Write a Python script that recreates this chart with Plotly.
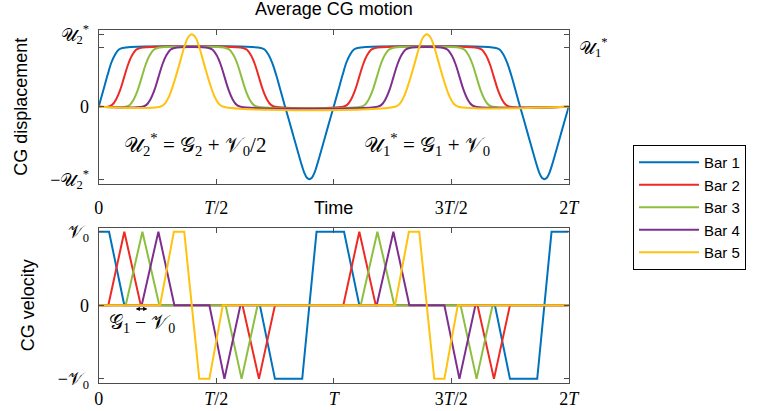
import plotly.graph_objects as go

# ---------------------------------------------------------------
# Data: time in units of the period T, displacement in units of U2*,
# velocity in units of V0.
# ---------------------------------------------------------------
names = ["Bar 1", "Bar 2", "Bar 3", "Bar 4", "Bar 5"]
colors = ["#0072BD", "#EE2A24", "#8CBF3F", "#7E2F8E", "#FFC20E"]

# CG displacement
disp_t_bar1 = [0.000, 0.019, 0.038, 0.054, 0.070, 0.086, 0.102, 0.690, 0.706, 0.722, 0.738,
               0.755, 0.775, 0.793, 0.810, 0.830, 0.850, 0.866, 0.876, 0.886, 0.8965, 0.907,
               0.917, 0.927, 0.943, 0.963, 0.983, 1.000, 1.019, 1.038, 1.054, 1.070, 1.086,
               1.102, 1.690, 1.706, 1.722, 1.738, 1.755, 1.775, 1.793, 1.810, 1.830, 1.850,
               1.866, 1.876, 1.886, 1.8965, 1.907, 1.917, 1.927, 1.943, 1.963, 1.983, 2.000]
disp_u_bar1 = [0.00, 0.22, 0.44, 0.61, 0.72, 0.79, 0.81, 0.81, 0.788, 0.72, 0.608,
               0.44, 0.21, 0.00, -0.19, -0.42, -0.65, -0.826, -0.92, -0.98, -1.00, -0.98,
               -0.92, -0.826, -0.65, -0.42, -0.19, 0.00, 0.22, 0.44, 0.61, 0.72, 0.79,
               0.81, 0.81, 0.788, 0.72, 0.608, 0.44, 0.21, 0.00, -0.19, -0.42, -0.65,
               -0.826, -0.92, -0.98, -1.00, -0.98, -0.92, -0.826, -0.65, -0.42, -0.19, 0.00]

disp_t_bar2 = [0.000, 0.040, 0.057, 0.074, 0.091, 0.108, 0.125, 0.142, 0.159, 0.176,
               0.614, 0.631, 0.648, 0.665, 0.682, 0.699, 0.716, 0.733, 0.750,
               1.040, 1.057, 1.074, 1.091, 1.108, 1.125, 1.142, 1.159, 1.176,
               1.614, 1.631, 1.648, 1.665, 1.682, 1.699, 1.716, 1.733, 1.750, 2.000]
disp_u_bar2 = [0.00, 0.00, 0.025, 0.101, 0.228, 0.405, 0.582, 0.709, 0.785, 0.81,
               0.81, 0.785, 0.709, 0.582, 0.405, 0.228, 0.101, 0.025, 0.00,
               0.00, 0.025, 0.101, 0.228, 0.405, 0.582, 0.709, 0.785, 0.81,
               0.81, 0.785, 0.709, 0.582, 0.405, 0.228, 0.101, 0.025, 0.00, 0.00]

disp_t_bar3 = [0.000, 0.115, 0.132, 0.149, 0.166, 0.183, 0.200, 0.217, 0.234, 0.251,
               0.540, 0.557, 0.574, 0.591, 0.608, 0.625, 0.642, 0.659, 0.676,
               1.115, 1.132, 1.149, 1.166, 1.183, 1.200, 1.217, 1.234, 1.251,
               1.540, 1.557, 1.574, 1.591, 1.608, 1.625, 1.642, 1.659, 1.676, 2.000]
disp_u_bar3 = disp_u_bar2[:]

disp_t_bar4 = [0.000, 0.186, 0.203, 0.220, 0.237, 0.254, 0.271, 0.288, 0.305, 0.322,
               0.468, 0.485, 0.502, 0.519, 0.536, 0.553, 0.570, 0.587, 0.604,
               1.186, 1.203, 1.220, 1.237, 1.254, 1.271, 1.288, 1.305, 1.322,
               1.468, 1.485, 1.502, 1.519, 1.536, 1.553, 1.570, 1.587, 1.604, 2.000]
disp_u_bar4 = disp_u_bar2[:]

disp_t_bar5 = [0.000, 0.261, 0.281, 0.301, 0.320, 0.342, 0.364, 0.380, 0.396, 0.412, 0.428,
               0.450, 0.472, 0.491, 0.511, 0.531,
               1.261, 1.281, 1.301, 1.320, 1.342, 1.364, 1.380, 1.396, 1.412, 1.428,
               1.450, 1.472, 1.491, 1.511, 1.531, 2.000]
disp_u_bar5 = [0.00, 0.00, 0.04, 0.155, 0.33, 0.57, 0.82, 0.955, 1.00, 0.955, 0.82,
               0.57, 0.33, 0.155, 0.04, 0.00,
               0.00, 0.04, 0.155, 0.33, 0.57, 0.82, 0.955, 1.00, 0.955, 0.82,
               0.57, 0.33, 0.155, 0.04, 0.00, 0.00]

# CG velocity (piecewise linear)
vel_t_bar1 = [0.000, 0.044, 0.109, 0.686, 0.750, 0.866, 0.927, 1.044, 1.109, 1.686, 1.750, 1.866, 1.927, 2.000]
vel_v_bar1 = [1, 1, 0, 0, -1, -1, 1, 1, 0, 0, -1, -1, 1, 1]

vel_t_bar2 = [0.000, 0.041, 0.109, 0.179, 0.612, 0.682, 0.750, 1.041, 1.109, 1.179, 1.612, 1.682, 1.750, 2.000]
vel_v_bar2 = [0, 0, 1, 0, 0, -1, 0, 0, 1, 0, 0, -1, 0, 0]

vel_t_bar3 = [0.000, 0.115, 0.186, 0.258, 0.540, 0.608, 0.676, 1.115, 1.186, 1.258, 1.540, 1.608, 1.676, 2.000]
vel_v_bar3 = [0, 0, 1, 0, 0, -1, 0, 0, 1, 0, 0, -1, 0, 0]

vel_t_bar4 = [0.000, 0.183, 0.254, 0.322, 0.471, 0.535, 0.603, 1.183, 1.254, 1.322, 1.471, 1.535, 1.603, 2.000]
vel_v_bar4 = [0, 0, 1, 0, 0, -1, 0, 0, 1, 0, 0, -1, 0, 0]

vel_t_bar5 = [0.000, 0.261, 0.320, 0.364, 0.428, 0.471, 0.528, 1.261, 1.320, 1.364, 1.428, 1.471, 1.528, 2.000]
vel_v_bar5 = [0, 0, 1, 1, -1, -1, 0, 0, 1, 1, -1, -1, 0, 0]

U1_STAR = 0.81  # plateau level U1* relative to U2*

time_ticks = [0, 0.5, 1, 1.5, 2]
time_labels_bottom = ["0", "<i>T</i>/2", "<i>T</i>", "3<i>T</i>/2", "2<i>T</i>"]
time_labels_top = ["0", "<i>T</i>/2", "", "3<i>T</i>/2", "2<i>T</i>"]

U = "𝒰"
G = "𝒢"
V = "𝒱"

disp_series = [(disp_t_bar1, disp_u_bar1), (disp_t_bar2, disp_u_bar2), (disp_t_bar3, disp_u_bar3),
               (disp_t_bar4, disp_u_bar4), (disp_t_bar5, disp_u_bar5)]
vel_series = [(vel_t_bar1, vel_v_bar1), (vel_t_bar2, vel_v_bar2), (vel_t_bar3, vel_v_bar3),
              (vel_t_bar4, vel_v_bar4), (vel_t_bar5, vel_v_bar5)]

SANS = "Liberation Sans, Arial, sans-serif"
SERIF = "Liberation Serif, DejaVu Serif, serif"

fig = go.Figure()

for name, color, (t, u) in zip(names, colors, disp_series):
    fig.add_trace(go.Scatter(x=t, y=u, mode="lines", name=name,
                             line=dict(color=color, width=2, shape="spline", smoothing=1),
                             xaxis="x", yaxis="y"))

for name, color, (t, v) in zip(names, colors, vel_series):
    fig.add_trace(go.Scatter(x=t, y=v, mode="lines", name=name,
                             showlegend=False, line=dict(color=color, width=2),
                             xaxis="x2", yaxis="y2"))

W, H = 764, 411
axis_common = dict(showline=True, linecolor="#4d4d4d", linewidth=1, mirror="allticks",
                   ticks="inside", ticklen=5, tickcolor="#4d4d4d", showgrid=False,
                   zeroline=False, automargin=False,
                   tickfont=dict(family=SERIF, size=18, color="black"))

fig.update_layout(
    width=W, height=H,
    margin=dict(l=0, r=0, t=0, b=0, autoexpand=False),
    paper_bgcolor="white", plot_bgcolor="white",
    xaxis=dict(domain=[98.7 / W, 568.7 / W], range=[0, 2], anchor="y",
               tickvals=time_ticks, ticktext=time_labels_top, ticklabelstandoff=7,
               **axis_common),
    yaxis=dict(domain=[1 - 184 / H, 1 - 29.5 / H], range=[-1.066, 1.065], anchor="x",
               tickvals=[-1, 0, U1_STAR, 1],
               ticktext=["−" + U + "<sub>2</sub><sup>*</sup>", "0", "", U + "<sub>2</sub><sup>*</sup>"],
               ticklabelstandoff=5,
               title=dict(text="CG displacement", font=dict(family=SANS, size=18, color="black"),
                          standoff=18),
               **axis_common),
    xaxis2=dict(domain=[98.7 / W, 568.7 / W], range=[0, 2], anchor="y2",
                tickvals=time_ticks, ticktext=time_labels_bottom, **axis_common),
    yaxis2=dict(domain=[1 - 382.7 / H, 1 - 228 / H], range=[-1.052, 1.05], anchor="x2",
                tickvals=[-1, 0, 1],
                ticktext=["−" + V + "<sub>0</sub>", "0", V + "<sub>0</sub>"],
                ticklabelstandoff=5,
                title=dict(text="CG velocity", font=dict(family=SANS, size=18, color="black"),
                           standoff=18),
                **axis_common),
    legend=dict(x=633 / W, y=1 - 145 / H, xanchor="left", yanchor="top",
                bordercolor="black", borderwidth=1, bgcolor="white", tracegroupgap=0,
                font=dict(family=SANS, size=15, color="black"), itemwidth=60),
    showlegend=True,
)

annotations = [
    dict(text="Average CG motion", x=333.5 / W, y=1 - 9 / H, xref="paper", yref="paper",
         xanchor="center", yanchor="middle", showarrow=False,
         font=dict(family=SANS, size=18, color="black")),
    dict(text="Time", x=1, y=1 - 207.5 / H, xref="x", yref="paper", showarrow=False,
         yanchor="middle", font=dict(family=SANS, size=18, color="black")),
    dict(text=U + "<sub>1</sub><sup>*</sup>", x=577 / W, y=U1_STAR, xref="paper", yref="y",
         xanchor="left", showarrow=False, font=dict(family=SERIF, size=18, color="black")),
    dict(text=U + "<sub>2</sub><sup>*</sup> = " + G + "<sub>2</sub> + " + V + "<sub>0</sub>/2",
         x=0.41, y=-0.528, xref="x", yref="y", showarrow=False,
         font=dict(family=SERIF, size=21, color="black")),
    dict(text=U + "<sub>1</sub><sup>*</sup> = " + G + "<sub>1</sub> + " + V + "<sub>0</sub>",
         x=1.397, y=-0.528, xref="x", yref="y", showarrow=False,
         font=dict(family=SERIF, size=21, color="black")),
    dict(text=G + "<sub>1</sub> − " + V + "<sub>0</sub>", x=0.185, y=-0.254, xref="x2", yref="y2",
         showarrow=False, font=dict(family=SERIF, size=20, color="black")),
    dict(text="", x=0.207, y=-0.05, ax=0.151, ay=-0.05, xref="x2", yref="y2",
         axref="x2", ayref="y2", showarrow=True, arrowside="end+start", arrowhead=2,
         arrowsize=0.7, arrowwidth=1.2, arrowcolor="black"),
]
fig.update_layout(annotations=annotations)

fig.write_html("out.html")
